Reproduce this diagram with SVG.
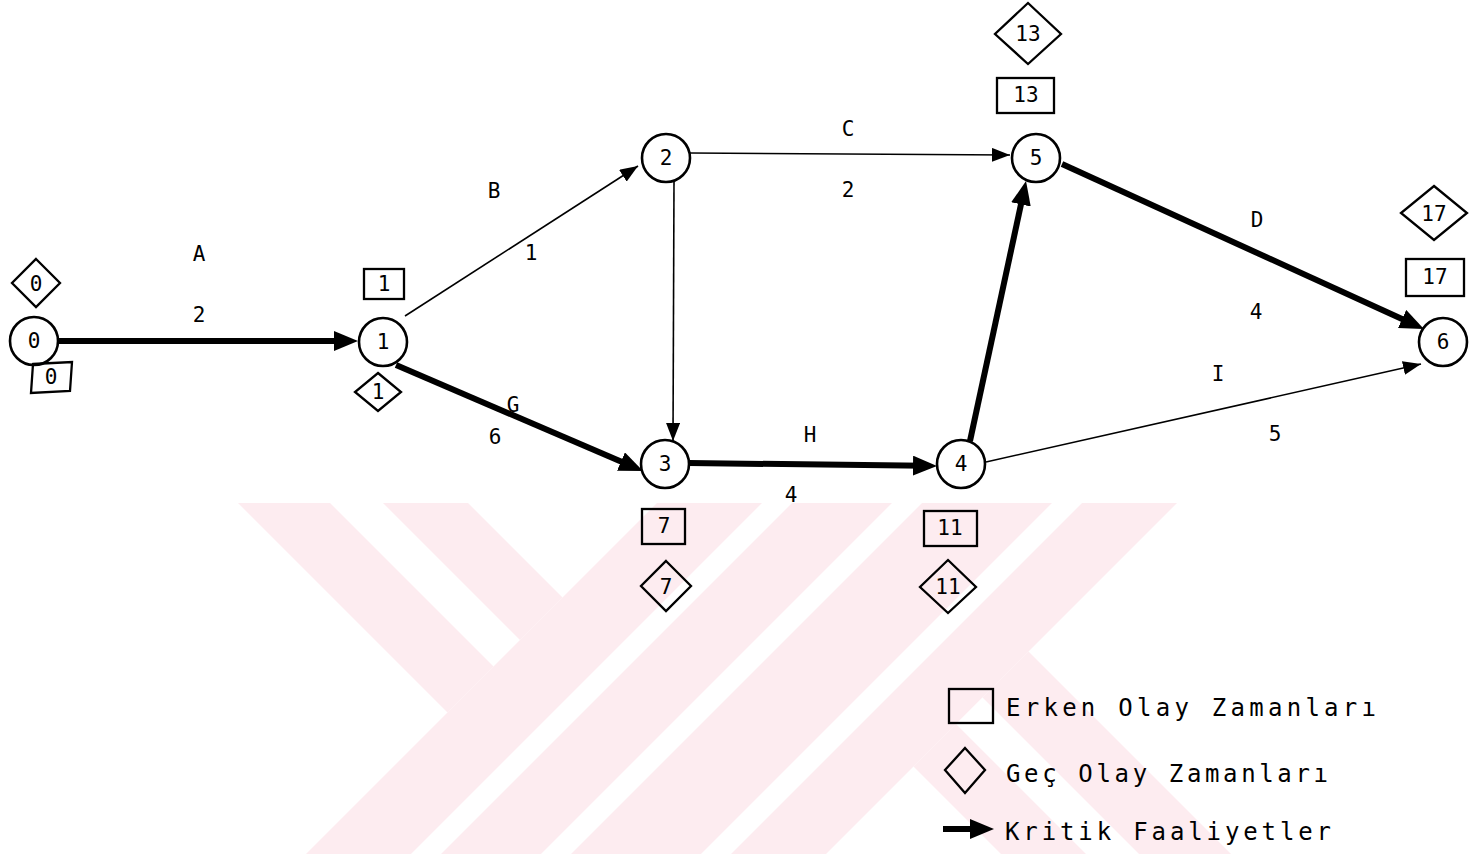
<svg xmlns="http://www.w3.org/2000/svg" width="1484" height="854" viewBox="0 0 1484 854">
<style>
.bg{fill:#ffffff}
.wm{fill:#fdecf0}
.wg{fill:#ffffff}
.nd circle{fill:#ffffff;stroke:#000;stroke-width:2.6}
.bx{fill:none;stroke:#000;stroke-width:2.3}
.t{font-family:"DejaVu Sans Mono","Liberation Mono",monospace;fill:#000;text-anchor:middle}
.nt{font-size:21px}
.lt{font-size:21px}
.lg{font-family:"DejaVu Sans Mono","Liberation Mono",monospace;font-size:24px;fill:#000}
.thick{stroke:#000;stroke-width:6;fill:none;marker-end:url(#ah)}
.thin{stroke:#000;stroke-width:1.6;fill:none;marker-end:url(#as)}
</style>
<defs>
<marker id="ah" markerUnits="userSpaceOnUse" markerWidth="24" markerHeight="20" viewBox="0 0 24 20" refX="12" refY="10" orient="auto">
<path d="M0,0 L24,10 L0,20 Z" fill="#000"/>
</marker>
<marker id="as" markerUnits="userSpaceOnUse" markerWidth="18" markerHeight="14" viewBox="0 0 18 14" refX="18" refY="7" orient="auto">
<path d="M0,0 L18,7 L0,14 Z" fill="#000"/>
</marker>
</defs>
<rect class="bg" x="0" y="0" width="1484" height="854"/>
<g id="watermark">
<polygon class="wm" points="238,503 330,503 493.5,666.5 447.5,712.5"/>
<polygon class="wm" points="383,503 468,503 562.5,597.5 520,640"/>
<polygon class="wm" points="657,503 1177,503 826,854 306,854"/>
<polygon class="wm" points="913.5,766.5 1028.5,651.5 1231,854 1001,854"/>
<polygon class="wg" points="762,503 792,503 441,854 411,854"/>
<polygon class="wg" points="892,503 922,503 571,854 541,854"/>
<polygon class="wg" points="1052,503 1082,503 731,854 701,854"/>
<polygon class="wg" points="956,724 982.5,697.5 1139,854 1086,854"/>
</g>
<g id="connectors">
<line class="thick" x1="58" y1="341" x2="346" y2="341"/>
<line class="thick" x1="396" y1="365" x2="632" y2="466.3"/>
<line class="thick" x1="689" y1="463" x2="925" y2="465.8"/>
<line class="thick" x1="970" y1="441" x2="1023.5" y2="192.7"/>
<line class="thick" x1="1062" y1="164" x2="1413" y2="324"/>
<line class="thin" x1="405" y1="316" x2="638" y2="166"/>
<line class="thin" x1="674" y1="182" x2="673" y2="441"/>
<line class="thin" x1="690" y1="153" x2="1010" y2="155"/>
<line class="thin" x1="986" y1="462" x2="1421" y2="364"/>
</g>
<g id="edge-labels">
<text class="t lt" x="199" y="261">A</text>
<text class="t lt" x="199" y="322">2</text>
<text class="t lt" x="494" y="198">B</text>
<text class="t lt" x="531" y="260">1</text>
<text class="t lt" x="513" y="412">G</text>
<text class="t lt" x="495" y="444">6</text>
<text class="t lt" x="848" y="136">C</text>
<text class="t lt" x="848" y="197">2</text>
<text class="t lt" x="810" y="442">H</text>
<text class="t lt" x="791" y="502">4</text>
<text class="t lt" x="1257" y="227">D</text>
<text class="t lt" x="1256" y="319">4</text>
<text class="t lt" x="1218" y="381">I</text>
<text class="t lt" x="1275" y="441">5</text>
</g>
<g id="node0" class="nd">
<circle cx="34" cy="341" r="24"/>
<text class="t nt" x="34" y="348">0</text>
<polygon class="bx" points="33,364 72,362 70,391 31,393"/>
<text class="t nt" x="51" y="384">0</text>
<polygon class="bx" points="36,259 60,283 36,307 12,283"/>
<text class="t nt" x="36" y="291">0</text>
</g>
<g id="node1" class="nd">
<circle cx="383" cy="342" r="24"/>
<text class="t nt" x="383" y="349">1</text>
<rect class="bx" x="364" y="269" width="40" height="30"/>
<text class="t nt" x="384" y="291">1</text>
<polygon class="bx" points="378,373 401,392 378,411 355,392"/>
<text class="t nt" x="378" y="399">1</text>
</g>
<g id="node2" class="nd">
<circle cx="666" cy="158" r="24"/>
<text class="t nt" x="666" y="165">2</text>
</g>
<g id="node3" class="nd">
<circle cx="665" cy="464" r="24"/>
<text class="t nt" x="665" y="471">3</text>
<rect class="bx" x="642" y="509" width="43" height="35"/>
<text class="t nt" x="664" y="533">7</text>
<polygon class="bx" points="666,561 691,586 666,611 641,586"/>
<text class="t nt" x="666" y="594">7</text>
</g>
<g id="node4" class="nd">
<circle cx="961" cy="464" r="24"/>
<text class="t nt" x="961" y="471">4</text>
<rect class="bx" x="924" y="511" width="53" height="35"/>
<text class="t nt" x="950" y="535">11</text>
<polygon class="bx" points="948,560 976,587 948,613 920,587"/>
<text class="t nt" x="948" y="594">11</text>
</g>
<g id="node5" class="nd">
<circle cx="1036" cy="158" r="24"/>
<text class="t nt" x="1036" y="165">5</text>
<rect class="bx" x="997" y="78" width="57" height="35"/>
<text class="t nt" x="1026" y="102">13</text>
<polygon class="bx" points="1028,3 1061,34 1028,64 995,34"/>
<text class="t nt" x="1028" y="41">13</text>
</g>
<g id="node6" class="nd">
<circle cx="1443" cy="342" r="24"/>
<text class="t nt" x="1443" y="349">6</text>
<rect class="bx" x="1406" y="259" width="58" height="37"/>
<text class="t nt" x="1435" y="284">17</text>
<polygon class="bx" points="1434,186 1467,213 1434,240 1401,213"/>
<text class="t nt" x="1434" y="221">17</text>
</g>
<g id="legend">
<rect class="bx" x="949" y="689" width="44" height="34"/>
<text class="lg" x="1006" y="716" textLength="370" lengthAdjust="spacing">Erken Olay Zamanları</text>
<polygon class="bx" points="965,748 985,770 965,793 945,770"/>
<text class="lg" x="1006" y="782" textLength="322" lengthAdjust="spacing">Geç Olay Zamanları</text>
<line class="thick" x1="943" y1="829" x2="982" y2="829"/>
<text class="lg" x="1005" y="840" textLength="326" lengthAdjust="spacing">Kritik Faaliyetler</text>
</g>
</svg>
